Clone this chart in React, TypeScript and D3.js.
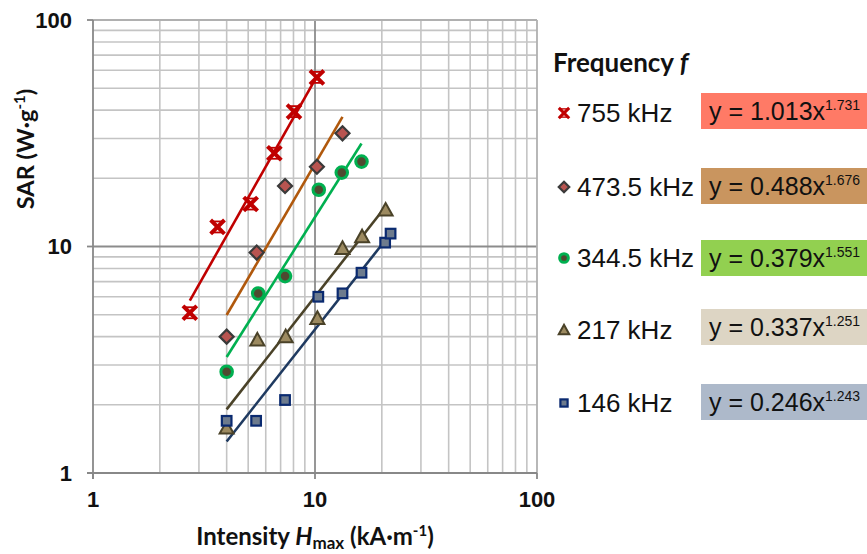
import React from "react";
import * as d3 from "d3";

const W = 867, H = 554;
const M = { left: 93, right: 537, top: 20, bottom: 473 };

const seriesNames = ["755 kHz", "473.5 kHz", "344.5 kHz", "217 kHz", "146 kHz"];
const fitA = [1.013, 0.488, 0.379, 0.337, 0.246];
const fitB = [1.731, 1.676, 1.551, 1.251, 1.243];
const fitAText = ["1.013", "0.488", "0.379", "0.337", "0.246"];
const fitBText = ["1.731", "1.676", "1.551", "1.251", "1.243"];

const x755 = [2.73, 3.64, 5.13, 6.56, 8.04, 10.2];
const y755 = [5.1, 12.2, 15.4, 25.8, 39.4, 55.8];
const x473 = [4.0, 5.46, 7.33, 10.2, 13.3];
const y473 = [4.0, 9.4, 18.5, 22.5, 31.6];
const x344 = [4.0, 5.55, 7.33, 10.4, 13.2, 16.2];
const y344 = [2.8, 6.2, 7.4, 17.8, 21.2, 23.7];
const x217 = [4.0, 5.5, 7.38, 10.25, 13.3, 16.3, 20.8];
const y217 = [1.58, 3.87, 4.0, 4.82, 9.82, 11.05, 14.5];
const x146 = [4.0, 5.43, 7.33, 10.35, 13.3, 16.2, 20.7, 21.9];
const y146 = [1.7, 1.7, 2.1, 6.0, 6.21, 7.66, 10.4, 11.4];

const xTicks = [1, 10, 100];
const yTicks = [1, 10, 100];

const xsAll = [x755, x473, x344, x217, x146];
const ysAll = [y755, y473, y344, y217, y146];
const lineColors = ["#C00000", "#B0580C", "#00B050", "#4A4228", "#1F3A60"];
const boxColors = ["#FF7A66", "#C9955F", "#92D050", "#DDD5C4", "#ADB9CA"];
const markerTypes = ["x", "diamond", "circle", "triangle", "square"];
const legendY = [113, 187, 258, 330, 403];
const boxY = [93, 168, 240, 309, 384];

function Marker({ type, cx, cy, s = 1 }: { type: string; cx: number; cy: number; s?: number }) {
  if (type === "x") {
    const d = 5.5 * s;
    return (
      <g stroke="#C00000" strokeWidth={4 * s} strokeLinecap="square">
        <line x1={cx - d} y1={cy - d} x2={cx + d} y2={cy + d} />
        <line x1={cx - d} y1={cy + d} x2={cx + d} y2={cy - d} />
        <line x1={cx - d} y1={cy - d} x2={cx + d} y2={cy - d} strokeWidth={1.8 * s} />
        <line x1={cx - d} y1={cy + d} x2={cx + d} y2={cy + d} strokeWidth={1.8 * s} />
      </g>
    );
  }
  if (type === "diamond") {
    const d = 7 * s;
    return (
      <path d={`M${cx},${cy - d}L${cx + d},${cy}L${cx},${cy + d}L${cx - d},${cy}Z`} fill="#B85450" stroke="#3A3A3A" strokeWidth={2.2} />
    );
  }
  if (type === "circle") {
    return <circle cx={cx} cy={cy} r={5.8 * s} fill="#4F4A30" stroke="#00B050" strokeWidth={3} />;
  }
  if (type === "triangle") {
    const d = 7 * s;
    return (
      <path d={`M${cx},${cy - d}L${cx + d},${cy + d * 0.8}L${cx - d},${cy + d * 0.8}Z`} fill="#9C8A60" stroke="#4A4228" strokeWidth={2} />
    );
  }
  const d = 4.8 * s;
  return <rect x={cx - d} y={cy - d} width={2 * d} height={2 * d} fill="#6D7B8D" stroke="#0A2A70" strokeWidth={2.2} />;
}

export default function App() {
  const x = d3.scaleLog().domain([1, 100]).range([M.left, M.right]);
  const y = d3.scaleLog().domain([1, 100]).range([M.bottom, M.top]);

  const minor: number[] = [];
  for (const dec of [1, 10]) for (let k = 2; k <= 9; k++) minor.push(dec * k);

  const line = d3
    .line<number[]>()
    .x((d) => x(d[0]))
    .y((d) => y(d[1]));

  return (
    <svg width={W} height={H} style={{ position: "absolute", left: 0, top: 0, background: "#fff" }} fontFamily="Arial, 'Liberation Sans', sans-serif">
      {/* minor grid */}
      {minor.map((v) => (
        <g key={"m" + v}>
          <line x1={x(v)} x2={x(v)} y1={M.top} y2={M.bottom} stroke="#C4C4C4" strokeWidth={1.6} />
          <line x1={M.left} x2={M.right} y1={y(v)} y2={y(v)} stroke="#C4C4C4" strokeWidth={1.6} />
        </g>
      ))}
      {/* major grid */}
      {[10, 100].map((v) => (
        <g key={"M" + v}>
          <line x1={x(v)} x2={x(v)} y1={M.top} y2={M.bottom} stroke={v === 100 ? "#B0B0B0" : "#8C8C8C"} strokeWidth={1.8} />
          <line x1={M.left} x2={M.right} y1={y(v)} y2={y(v)} stroke={v === 100 ? "#B0B0B0" : "#8C8C8C"} strokeWidth={1.8} />
        </g>
      ))}
      {/* axes */}
      <line x1={M.left} x2={M.left} y1={M.top} y2={M.bottom + 6} stroke="#888" strokeWidth={1.8} />
      <line x1={M.left - 6} x2={M.right} y1={M.bottom} y2={M.bottom} stroke="#888" strokeWidth={1.8} />
      {yTicks.map((v) => (
        <g key={"yt" + v}>
          <line x1={M.left - 6} x2={M.left} y1={y(v)} y2={y(v)} stroke="#888" strokeWidth={1.8} />
          <text x={72} y={y(v)} dy="0.36em" textAnchor="end" fontWeight="bold" fontSize={22} fill="#111">{v}</text>
        </g>
      ))}
      {xTicks.map((v) => (
        <g key={"xt" + v}>
          <line x1={x(v)} x2={x(v)} y1={M.bottom} y2={M.bottom + 6} stroke="#888" strokeWidth={1.8} />
          <text x={x(v)} y={507} textAnchor="middle" fontWeight="bold" fontSize={22} fill="#111">{v}</text>
        </g>
      ))}

      {/* trend lines */}
      {xsAll.map((xs, i) => {
        const x0 = d3.min(xs)!, x1 = d3.max(xs)!;
        const pts = [x0, x1].map((v) => [v, fitA[i] * Math.pow(v, fitB[i])]);
        return <path key={"l" + i} d={line(pts)!} fill="none" stroke={lineColors[i]} strokeWidth={2.6} />;
      })}

      {/* markers */}
      {xsAll.map((xs, i) => (
        <g key={"s" + i}>
          {xs.map((v, j) => (
            <Marker key={j} type={markerTypes[i]} cx={x(v)} cy={y(ysAll[i][j])} />
          ))}
        </g>
      ))}

      {/* axis titles */}
      <text transform="translate(34,149) rotate(-90)" textAnchor="middle" fontFamily="Lato, 'Open Sans', sans-serif" fontWeight="bold" fontSize={23.5} fill="#111">
        SAR (W·g<tspan dy={-9} fontSize={15}>-1</tspan><tspan dy={9}>)</tspan>
      </text>
      <text x={315} y={545} textAnchor="middle" fontFamily="Lato, 'Open Sans', sans-serif" fontWeight="bold" fontSize={24} fill="#111">
        Intensity <tspan fontStyle="italic">H</tspan><tspan dy={4} fontSize={17}>max</tspan><tspan dy={-4}> (kA·m</tspan><tspan dy={-9} fontSize={15}>-1</tspan><tspan dy={9}>)</tspan>
      </text>

      {/* legend */}
      <text x={553} y={72} fontFamily="Lato, 'Open Sans', sans-serif" fontWeight="bold" fontSize={26} fill="#111">
        Frequency <tspan fontStyle="italic">f</tspan>
      </text>
      {seriesNames.map((name, i) => (
        <g key={"lg" + i}>
          <Marker type={markerTypes[i]} cx={564} cy={legendY[i]} s={0.75} />
          <text x={577} y={legendY[i]} dy="0.36em" fontSize={26} fill="#111">{name}</text>
          <rect x={701} y={boxY[i]} width={166} height={36} fill={boxColors[i]} />
          <text x={709} y={boxY[i] + 18} dy="0.36em" fontSize={25} fill="#111">
            y = {fitAText[i]}x<tspan dy={-10} fontSize={14}>{fitBText[i]}</tspan>
          </text>
        </g>
      ))}
    </svg>
  );
}
